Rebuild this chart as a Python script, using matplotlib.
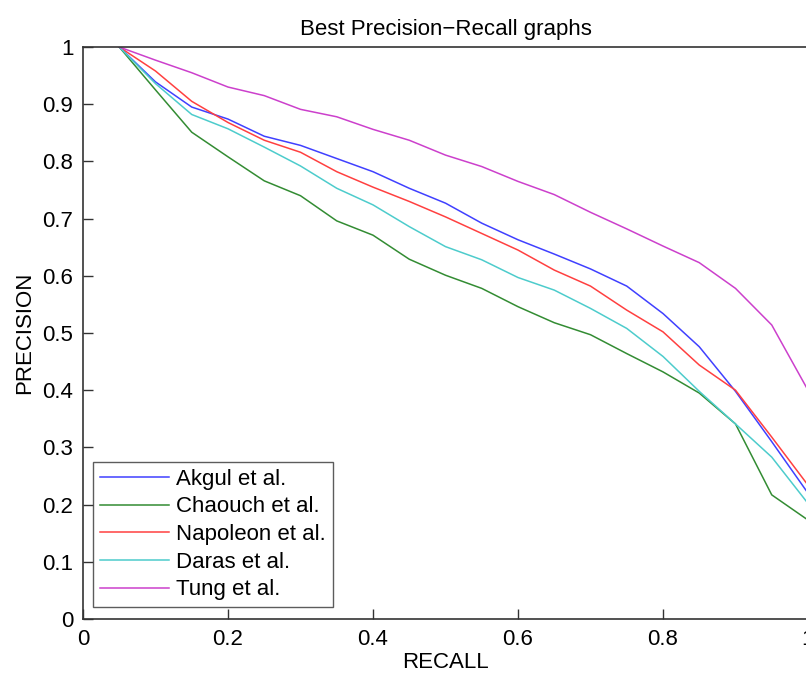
import numpy as np
import matplotlib.pyplot as plt

plt.rcParams['font.family'] = ['Liberation Sans', 'DejaVu Sans']

# recall levels 0.05 .. 1.0
recall = [0.05, 0.10, 0.15, 0.20, 0.25, 0.30, 0.35, 0.40, 0.45, 0.50,
          0.55, 0.60, 0.65, 0.70, 0.75, 0.80, 0.85, 0.90, 0.95, 1.00]

akgul = [1.0, 0.939, 0.895, 0.874, 0.844, 0.828, 0.805, 0.782, 0.753, 0.727,
         0.692, 0.663, 0.638, 0.612, 0.582, 0.534, 0.476, 0.398, 0.310, 0.220]
chaouch = [1.0, 0.925, 0.851, 0.808, 0.766, 0.740, 0.696, 0.671, 0.629, 0.601,
           0.578, 0.546, 0.518, 0.497, 0.464, 0.432, 0.395, 0.341, 0.217, 0.173]
napoleon = [1.0, 0.958, 0.905, 0.868, 0.837, 0.816, 0.782, 0.755, 0.730, 0.703,
            0.674, 0.645, 0.610, 0.582, 0.540, 0.502, 0.444, 0.400, 0.318, 0.234]
daras = [1.0, 0.936, 0.882, 0.857, 0.825, 0.792, 0.753, 0.724, 0.686, 0.651,
         0.628, 0.597, 0.575, 0.543, 0.508, 0.459, 0.398, 0.341, 0.283, 0.202]
tung = [1.0, 0.977, 0.955, 0.930, 0.915, 0.891, 0.878, 0.856, 0.837, 0.811,
        0.791, 0.765, 0.742, 0.711, 0.682, 0.652, 0.623, 0.578, 0.514, 0.400]

names = ['Akgul et al.', 'Chaouch et al.', 'Napoleon et al.', 'Daras et al.', 'Tung et al.']
series = [akgul, chaouch, napoleon, daras, tung]
# matlab style colours
colors = [(0.25, 0.25, 1.0), (0.2, 0.55, 0.2), (1.0, 0.25, 0.25), (0.3, 0.8, 0.8), (0.8, 0.25, 0.8)]

fig = plt.figure(figsize=(8.06, 6.74), dpi=100)
ax = fig.add_axes([83/806, 55/674, 725/806, 572/674])

for s, name, c in zip(series, names, colors):
    ax.plot(recall, s, color=c, linewidth=1.1, label=name)

ax.set_xlim(0, 1)
ax.set_ylim(0, 1)
ax.set_xticks(np.arange(0, 1.01, 0.2))
ax.set_xticklabels(['0', '0.2', '0.4', '0.6', '0.8', '1'])
ax.set_yticks(np.arange(0, 1.01, 0.1))
ax.set_yticklabels(['0', '0.1', '0.2', '0.3', '0.4', '0.5', '0.6', '0.7', '0.8', '0.9', '1'])
ax.tick_params(direction='in', length=7, width=1, colors='#333333', labelsize=16, labelcolor='black', pad=7)
for sp in ax.spines.values():
    sp.set_color('#333333')
    sp.set_linewidth(1.2)

ax.set_title('Best Precision\u2212Recall graphs', fontsize=16, pad=9)
ax.set_xlabel('RECALL', fontsize=16, labelpad=2)
ax.set_ylabel('PRECISION', fontsize=16, labelpad=5)

leg = ax.legend(loc='lower left', bbox_to_anchor=(10/725, 12/572), fontsize=16,
                frameon=True, fancybox=False, handlelength=3.1, handletextpad=0.35,
                borderpad=0.3, labelspacing=0.3, borderaxespad=0)
leg.get_frame().set_edgecolor('#333333')
leg.get_frame().set_linewidth(1.0)

fig.savefig('out.png', dpi=100)
